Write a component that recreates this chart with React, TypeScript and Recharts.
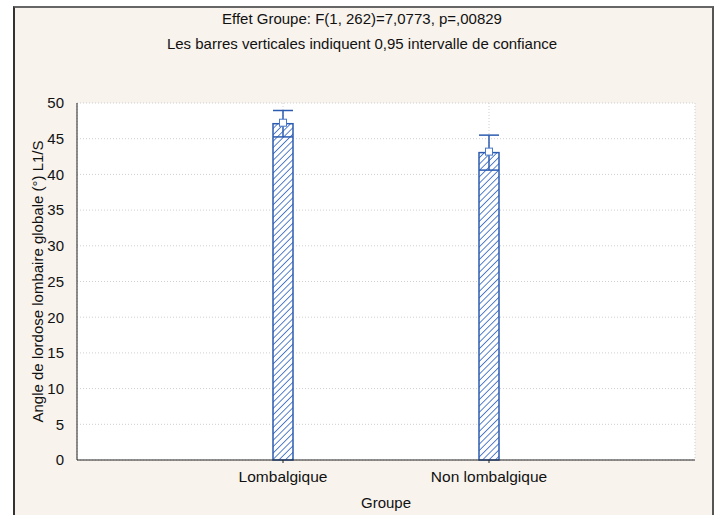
import {
  ComposedChart, Bar, Line, ErrorBar, XAxis, YAxis, CartesianGrid, Label
} from 'recharts'

// Group means of the global lumbar lordosis angle L1/S with 95% CI bounds
const groupes = ['Lombalgique', 'Non lombalgique']
const moyennes = [47.1, 43.05]
const icBas = [45.25, 40.6]
const icHaut = [48.95, 45.5]
const yTicks = [0, 5, 10, 15, 20, 25, 30, 35, 40, 45, 50]

const data = groupes.map((g, i) => ({
  groupe: g,
  moyenne: moyennes[i],
  ic: [moyennes[i] - icBas[i], icHaut[i] - moyennes[i]],
}))

const BLUE = '#2c5cb0'
const FONT = '"Liberation Sans", Arial, sans-serif'

const HatchedBar = (props: any) => {
  const { x, y, width, height } = props
  return (
    <g>
      <defs>
        <pattern id="hachures" patternUnits="userSpaceOnUse" width={4.5} height={4.5} patternTransform="rotate(45)">
          <line x1={0} y1={0} x2={0} y2={4.5} stroke="#2f62c0" strokeWidth={1.6} />
        </pattern>
      </defs>
      <rect x={x} y={y} width={width} height={height} fill="#ffffff" />
      <rect x={x} y={y} width={width} height={height} fill="url(#hachures)" stroke={BLUE} strokeWidth={1.5} />
    </g>
  )
}

const MeanMarker = (props: any) => {
  const { cx, cy } = props
  if (cx == null || cy == null) return null
  return <rect x={cx - 3.5} y={cy - 4.5} width={7} height={7} fill="#ffffff" stroke="#4a78c8" strokeWidth={1} />
}

export default function App() {
  return (
    <div style={{ position: 'fixed', left: 0, top: 0, width: 720, height: 515, background: '#ffffff', overflow: 'hidden' }}>
      <div
        style={{
          position: 'absolute', left: 13, top: 6, width: 697, height: 520,
          background: '#f8f3ed', borderLeft: '2px solid #333', borderTop: '2px solid #666', borderRight: '2px solid #555',
        }}
      />
      <div style={{ position: 'absolute', left: 0, top: 6, width: 724, textAlign: 'center', fontFamily: FONT, fontSize: 15, color: '#111', lineHeight: '25px' }}>
        <div>Effet Groupe: F(1, 262)=7,0773, p=,00829</div>
        <div>Les barres verticales indiquent 0,95 intervalle de confiance</div>
      </div>
      <div style={{ position: 'absolute', left: 0, top: 0 }}>
        <ComposedChart width={720} height={515} data={data} margin={{ top: 103, right: 25, bottom: 20, left: 37 }}>
          <CartesianGrid fill="#ffffff" stroke="#cfcfcf" strokeDasharray="1 2" />
          <XAxis
            dataKey="groupe"
            padding={{ left: 103, right: 103 }}
            height={35}
            stroke="#222"
            tickSize={3}
            tickMargin={8}
            tick={{ fill: '#111', fontSize: 15.5, fontFamily: FONT }}
          >
            <Label value="Groupe" position="bottom" offset={2} fill="#111" fontSize={15} fontFamily={FONT} />
          </XAxis>
          <XAxis xAxisId="top" dataKey="groupe" orientation="top" height={0} stroke="#222" tick={false} padding={{ left: 103, right: 103 }} />
          <YAxis
            domain={[0, 50]}
            ticks={yTicks}
            width={40}
            stroke="#222"
            tickLine={false}
            tickMargin={7}
            tick={{ fill: '#111', fontSize: 15, fontFamily: FONT }}
          >
            <Label
              value="Angle de lordose lombaire globale (°) L1/S"
              angle={-90}
              position="insideLeft"
              dx={-4}
              style={{ textAnchor: 'middle' }}
              fill="#111"
              fontSize={15}
              fontFamily={FONT}
            />
          </YAxis>
          <YAxis yAxisId="right" orientation="right" domain={[0, 50]} width={0} stroke="#222" tick={false} />
          <Bar dataKey="moyenne" barSize={20} shape={HatchedBar} isAnimationActive={false}>
            <ErrorBar dataKey="ic" width={10} stroke={BLUE} strokeWidth={1.5} direction="y" />
          </Bar>
          <Line dataKey="moyenne" stroke="none" dot={MeanMarker} activeDot={false} isAnimationActive={false} />
        </ComposedChart>
      </div>
    </div>
  )
}
